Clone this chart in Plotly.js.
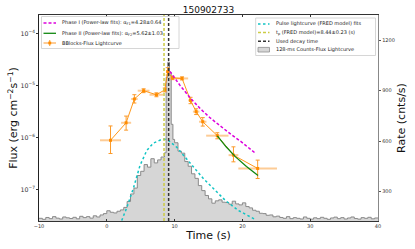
<!DOCTYPE html>
<html><head><meta charset="utf-8">
<script src="https://cdn.plot.ly/plotly-3.0.1.min.js"></script>
<style>html,body{margin:0;padding:0;background:#fff}#chart{width:415px;height:249px}</style>
</head><body><div id="chart"></div>
<script>
const burstName = '150902733';
// counts light curve: bin left edges (s) and rates (cnts/s)
const lcTime = [-10,-9.5,-9,-8.5,-8,-7.5,-7,-6.5,-6,-5.5,-5,-4.5,-4,-3.5,-3,-2.5,-2,-1.5,-1,-0.5,
  0,0.5,1,1.5,2,2.5,3,3.5,4,4.5,5,5.5,6,6.5,7,7.5,8,8.5,8.75,9,9.25,9.5,9.75,
  10,10.5,11,11.5,12,12.5,13,13.5,14,14.5,15,15.5,16,16.5,17,17.5,18,18.5,19,19.5,
  20,20.5,21,21.5,22,22.5,23,23.5,24,24.5,25,25.5,26,26.5,27,27.5,28,28.5,29,29.5,
  30,30.5,31,31.5,32,32.5,33,33.5,34,34.5,35,35.5,36,36.5,37,37.5,38,38.5,39,39.5,40];
const lcRate = [140,134,145,138,150,141,136,148,143,139,146,137,152,144,150,141,155,148,160,168,
  185,176,172,182,190,205,240,285,320,395,420,460,445,495,470,488,505,530,980,1070,1010,700,610,
  590,540,528,478,450,405,378,335,305,276,256,230,244,250,236,234,224,242,226,220,
  232,210,202,188,182,170,168,158,160,149,153,145,140,150,138,144,140,136,148,140,
  135,143,138,146,140,134,142,147,138,144,136,142,148,139,135,144,140,146,137,142,142];
// Bayesian-block flux points
const bbTime    = [0.55, 2.85, 4.07, 5.43, 7.32, 8.55, 8.98, 9.7, 11.1, 12.35, 13.18, 14.15, 16.3, 18.68, 22.25];
const bbTimeErr = [1.55, 0.74, 0.48, 0.87, 1.02, 0.21, 0.23, 0.5, 0.9, 0.35, 0.48, 0.55, 1.65, 0.72, 2.85];
const bbFlux    = [8.8e-7, 1.91e-6, 5.47e-6, 7.9e-6, 6.6e-6, 8.2e-6, 1.84e-5, 1.39e-5, 1.36e-5, 5.14e-6, 3.13e-6, 2.0e-6, 1.08e-6, 4.56e-7, 2.53e-7];
const bbFluxHi  = [1.66e-6, 2.57e-6, 6.62e-6, 8.6e-6, 7.2e-6, 8.9e-6, 2.19e-5, 1.5e-5, 1.46e-5, 5.9e-6, 3.55e-6, 2.4e-6, 1.23e-6, 6.59e-7, 3.66e-7];
const bbFluxLo  = [4.9e-7, 1.38e-6, 4.58e-6, 7.25e-6, 6.05e-6, 7.5e-6, 1.58e-5, 1.29e-5, 1.27e-5, 4.45e-6, 2.75e-6, 1.65e-6, 9.4e-7, 3.39e-7, 1.62e-7];
// power-law fits
const p1Time = [9.3, 10.8, 12.3, 13.8, 15.3, 16.8, 18.3, 19.8, 21.3, 21.8];
const p1Flux = [1.86e-5, 1.0e-5, 5.75e-6, 3.55e-6, 2.34e-6, 1.62e-6, 1.15e-6, 8.3e-7, 5.9e-7, 5.1e-7];
const p2Time = [16.3, 17.6, 18.95, 20.6, 22.3];
const p2Flux = [1.07e-6, 6.6e-7, 4.27e-7, 2.75e-7, 1.86e-7];
// FRED pulse model (cnts/s)
const fredTime = [2.2, 2.9, 3.9, 4.9, 5.9, 6.87, 8.1, 8.44, 9.08, 10.3, 11.55, 12.8, 14.26, 16.0, 17.5, 19.4, 21.9];
const fredRate = [127, 199, 316, 455, 544, 588, 610, 612, 604, 564, 504, 445, 376, 306, 246, 187, 133];
const peakTime = 8.44;
const decayTime = 9.12;

const legend1 = ['Phase I (Power-law fits): α<sub>F1</sub>=4.28±0.64',
                 'Phase II (Power-law fits): α<sub>F2</sub>=5.62±1.03',
                 'BBlocks-Flux Lightcurve'];
const legend2 = ['Pulse lightcurve (FRED model) fits',
                 't<sub>p</sub> (FRED model)=8.44±0.23 (s)',
                 'Used decay time',
                 '128-ms Counts-Flux Lightcurve'];

const W = 415, H = 249, ML = 39, MR = 37, MT = 15, MB = 28;
const PW = W - ML - MR, PH = H - MT - MB;
const px = x => (x - ML) / PW;
const py = y => (H - MB - y) / PH;

const C_OR = '#ff8c00', C_MAG = '#dd00dd', C_GRN = '#118811', C_CY = '#11c4c4', C_YEL = '#cccc44', C_BLK = '#333333';

const traces = [
  {x: lcTime, y: lcRate, xaxis: 'x', yaxis: 'y', type: 'scatter', mode: 'lines', line: {shape: 'hv', color: '#8a8a8a', width: 1},
   fill: 'tozeroy', fillcolor: '#d6d6d6', hoverinfo: 'skip'},
  {x: fredTime, y: fredRate, xaxis: 'x', yaxis: 'y', type: 'scatter', mode: 'lines', line: {color: C_CY, width: 1.5, dash: '2.5px,2.5px'}},
  {x: bbTime, y: bbFlux, xaxis: 'x', yaxis: 'y2', type: 'scatter', mode: 'lines+markers',
   line: {color: C_OR, width: 0.9}, marker: {color: C_OR, size: 3, symbol: 'square'},
   error_x: {type: 'data', array: bbTimeErr, color: 'rgba(252,170,80,0.6)', thickness: 2, width: 0},
   error_y: {type: 'data', symmetric: false, array: bbFluxHi.map((v, i) => v - bbFlux[i]),
             arrayminus: bbFlux.map((v, i) => v - bbFluxLo[i]), color: '#fb9a2a', thickness: 1, width: 2}},
  {x: p1Time, y: p1Flux, xaxis: 'x', yaxis: 'y2', type: 'scatter', mode: 'lines', line: {color: C_MAG, width: 1.5, dash: '3px,2px'}},
  {x: p2Time, y: p2Flux, xaxis: 'x', yaxis: 'y2', type: 'scatter', mode: 'lines', line: {color: C_GRN, width: 1.3}}
];

const shapes = [];
const annotations = [];
// legend boxes
shapes.push({type: 'rect', xref: 'paper', yref: 'paper', x0: px(41.5), x1: px(179), y0: py(48.5), y1: py(16.5),
  line: {color: '#cccccc', width: 0.8}, fillcolor: 'rgba(255,255,255,0.85)', layer: 'above'});
shapes.push({type: 'rect', xref: 'paper', yref: 'paper', x0: px(255.7), x1: px(375.5), y0: py(55.5), y1: py(18),
  line: {color: '#cccccc', width: 0.8}, fillcolor: 'rgba(255,255,255,0.85)', layer: 'above'});
// vertical lines
shapes.push({type: 'line', xref: 'x', yref: 'paper', x0: peakTime, x1: peakTime, y0: 0, y1: 1,
  line: {color: C_YEL, width: 1.5, dash: '3px,2px'}, layer: 'above'});
shapes.push({type: 'line', xref: 'x', yref: 'paper', x0: decayTime, x1: decayTime, y0: 0, y1: 1,
  line: {color: C_BLK, width: 1.5, dash: '3px,2px'}, layer: 'above'});

// legend 1 entries
const l1y = [23, 33.3, 43];
shapes.push({type: 'line', xref: 'paper', yref: 'paper', x0: px(43.5), x1: px(56), y0: py(l1y[0]), y1: py(l1y[0]),
  line: {color: C_MAG, width: 1.5, dash: '3px,2px'}, layer: 'above'});
shapes.push({type: 'line', xref: 'paper', yref: 'paper', x0: px(43.5), x1: px(56), y0: py(l1y[1]), y1: py(l1y[1]),
  line: {color: C_GRN, width: 1.3}, layer: 'above'});
shapes.push({type: 'line', xref: 'paper', yref: 'paper', x0: px(43.5), x1: px(56), y0: py(l1y[2]), y1: py(l1y[2]),
  line: {color: 'rgba(252,170,80,0.6)', width: 2}, layer: 'above'});
shapes.push({type: 'line', xref: 'paper', yref: 'paper', x0: px(49.75), x1: px(49.75), y0: py(l1y[2] - 3), y1: py(l1y[2] + 3),
  line: {color: '#fb9a2a', width: 1}, layer: 'above'});
shapes.push({type: 'rect', xref: 'paper', yref: 'paper', x0: px(48.3), x1: px(51.2), y0: py(l1y[2] + 1.4), y1: py(l1y[2] - 1.4),
  line: {width: 0}, fillcolor: C_OR, layer: 'above'});
legend1.forEach((t, i) => annotations.push({xref: 'paper', yref: 'paper', x: px(59.5), y: py(l1y[i]), text: t,
  showarrow: false, xanchor: 'left', yanchor: 'middle', font: {size: 5, color: '#222'}}));

// legend 2 entries
const l2y = [24, 32.5, 41.3, 49.7];
shapes.push({type: 'line', xref: 'paper', yref: 'paper', x0: px(258), x1: px(269.5), y0: py(l2y[0]), y1: py(l2y[0]),
  line: {color: C_CY, width: 1.5, dash: '2.5px,2.5px'}, layer: 'above'});
shapes.push({type: 'line', xref: 'paper', yref: 'paper', x0: px(258), x1: px(269.5), y0: py(l2y[1]), y1: py(l2y[1]),
  line: {color: C_YEL, width: 1.5, dash: '3px,2px'}, layer: 'above'});
shapes.push({type: 'line', xref: 'paper', yref: 'paper', x0: px(258), x1: px(269.5), y0: py(l2y[2]), y1: py(l2y[2]),
  line: {color: C_BLK, width: 1.5, dash: '3px,2px'}, layer: 'above'});
shapes.push({type: 'rect', xref: 'paper', yref: 'paper', x0: px(258), x1: px(269.5), y0: py(l2y[3] + 2.3), y1: py(l2y[3] - 2.3),
  line: {color: '#8f8f8f', width: 0.8}, fillcolor: '#d6d6d6', layer: 'above'});
legend2.forEach((t, i) => annotations.push({xref: 'paper', yref: 'paper', x: px(273.5), y: py(l2y[i]), text: t,
  showarrow: false, xanchor: 'left', yanchor: 'middle', font: {size: 5, color: '#222'}}));

const layout = {
  width: W, height: H,
  margin: {l: ML, r: MR, t: MT, b: MB, pad: 0},
  paper_bgcolor: '#fff', plot_bgcolor: '#fff',
  font: {family: 'DejaVu Sans', color: '#222'},
  showlegend: false,
  title: {text: burstName, x: 0.5, xref: 'paper', y: 1 - 9.5 / H, yanchor: 'middle', font: {size: 9, color: '#111'}},
  xaxis: {range: [-10, 40], tickvals: [-10, 0, 10, 20, 30, 40], ticks: 'inside', ticklen: 2, tickcolor: '#333',
    showline: true, linecolor: '#333', linewidth: 1, mirror: 'ticks', showgrid: false, zeroline: false,
    tickfont: {size: 5, color: '#333'},
    title: {text: 'Time (s)', font: {size: 11, color: '#111'}, standoff: 3}},
  yaxis: {range: [124, 1351], tickvals: [300, 600, 900, 1200], side: 'right', ticks: 'outside', ticklen: 2, tickcolor: '#555',
    showline: true, linecolor: '#888', linewidth: 1.2, showgrid: false, zeroline: false,
    tickfont: {size: 5, color: '#333'},
    title: {text: 'Rate (cnts/s)', font: {size: 11, color: '#111'}, standoff: 3}},
  yaxis2: {type: 'log', range: [-7.607, -3.647], dtick: 1, exponentformat: 'power', overlaying: 'y', side: 'left',
    ticks: 'outside', ticklen: 2, tickcolor: '#333', showline: true, linecolor: '#222', linewidth: 1,
    showgrid: false, zeroline: false, tickfont: {size: 5, color: '#333'},
    title: {text: 'Flux (erg cm<sup>−2</sup>s<sup>−1</sup>)', font: {size: 11, color: '#111'}, standoff: 0}},
  shapes: shapes,
  annotations: annotations
};

Plotly.newPlot('chart', traces, layout, {staticPlot: true, displayModeBar: false});
</script></body></html>
